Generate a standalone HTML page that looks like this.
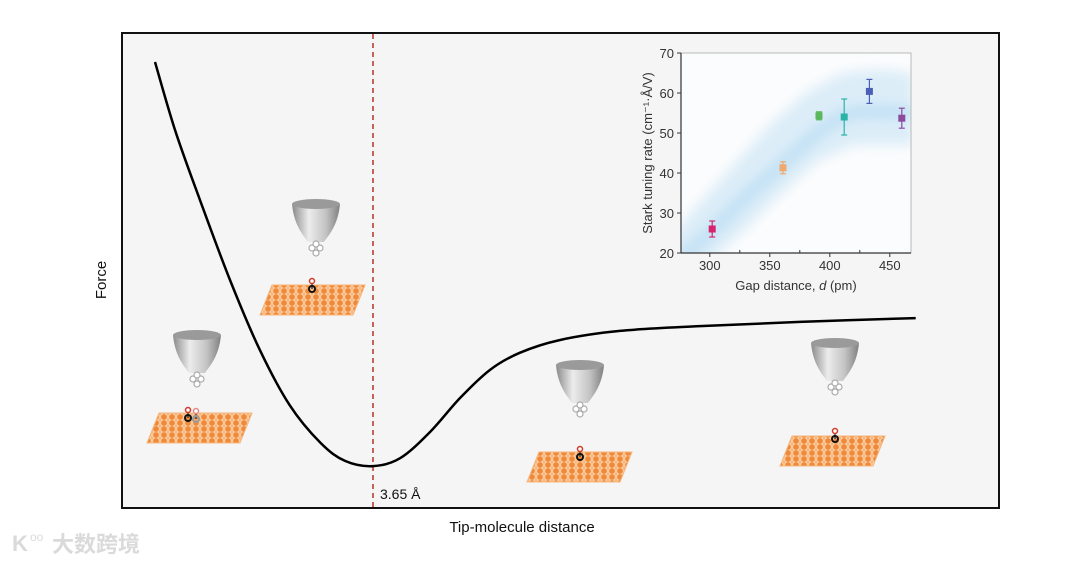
<!DOCTYPE html>
<html><head><meta charset="utf-8">
<style>
html,body{margin:0;padding:0;background:#fff;}
body{width:1080px;height:563px;overflow:hidden;font-family:"Liberation Sans",sans-serif;}
svg text{font-family:"Liberation Sans","Noto Sans CJK SC",sans-serif;}
</style></head>
<body>
<svg id="chart" width="1080" height="563" viewBox="0 0 1080 563">
<defs>
  <linearGradient id="cone" x1="0" x2="1" y1="0" y2="0">
    <stop offset="0" stop-color="#8a8a8a"/><stop offset="0.35" stop-color="#ececec"/><stop offset="0.7" stop-color="#c4c4c4"/><stop offset="1" stop-color="#808080"/>
  </linearGradient>
  <pattern id="atoms" width="8" height="6" patternUnits="userSpaceOnUse">
    <rect width="8" height="6" fill="#f7b27a"/>
    <circle cx="4" cy="3" r="3.4" fill="#f08a3a" stroke="#fbd2a8" stroke-width="1"/>
  </pattern>
  <filter id="blur" x="-20%" y="-20%" width="140%" height="140%"><feGaussianBlur stdDeviation="6"/></filter>
  <clipPath id="insetClip"><rect x="681" y="53" width="230" height="200"/></clipPath>
</defs>
<rect x="122" y="33" width="877" height="475" fill="#f5f5f5" stroke="#111" stroke-width="2"/>
<g id="illus"></g>
<line x1="373" y1="34" x2="373" y2="508" stroke="#b83228" stroke-width="1.5" stroke-dasharray="5,4"/>
<text x="380" y="499" font-size="14" fill="#111">3.65 Å</text>
<path id="curve" fill="none" stroke="#000" stroke-width="2.5"/>
<text x="106" y="280" font-size="15" fill="#111" transform="rotate(-90 106 280)" text-anchor="middle">Force</text>
<text x="522" y="532" font-size="15" fill="#111" text-anchor="middle">Tip-molecule distance</text>
<g id="inset"></g>
<g opacity="0.9">
  <text x="12" y="551" font-size="22" fill="#d6d6d6" font-weight="bold">K</text>
  <text x="30" y="541" font-size="12" fill="#d6d6d6">oo</text>
  <text x="52" y="552" font-size="22" fill="#d6d6d6" font-weight="bold">大数跨境</text>
</g>
</svg>
<script>
const NS="http://www.w3.org/2000/svg";
// main curve data (arbitrary units)
const distance=[3.76,6.04,8.88,12.3,15.7,19.1,22.6,25.4,28.6,31.7,35.1,38.5,41.9,45.3,49.9,56.7,65.8,77.2,90.4];
const force=[93.7,79.4,64.7,47.9,33.2,21.6,13.7,9.9,8.8,10.5,16.0,23.1,29.0,32.6,35.3,37.2,38.2,39.1,39.9];
// inset data
const gapDistance=[302,361,391,412,433,460];
const starkRate=[26,41.3,54.3,54,60.4,53.7];
const starkErr=[2,1.5,1,4.5,3,2.5];
const pointColors=["#d6246e","#f0a870","#5cb85c","#2bb3a8","#4a5fb5","#8e4a9e"];
const xTicks=[300,350,400,450];
const yTicks=[20,30,40,50,60,70];
const bandLower=[[270,10],[300,18],[330,26],[360,35],[390,43],[420,47],[470,47]];
const bandUpper=[[262,22],[290,32],[320,42],[350,52],[380,60],[410,65],[440,66],[470,65]];
const bandCenter=[[270,17],[300,25],[330,34],[360,42],[390,50],[420,55],[470,55]];

const mx=d=>122+d*8.78, my=f=>508-f*4.76;
function smooth(pts){
  let s=`M${pts[0][0]},${pts[0][1]}`;
  for(let i=0;i<pts.length-1;i++){
    const p0=pts[Math.max(0,i-1)],p1=pts[i],p2=pts[i+1],p3=pts[Math.min(pts.length-1,i+2)];
    s+=` C${p1[0]+(p2[0]-p0[0])/6},${p1[1]+(p2[1]-p0[1])/6} ${p2[0]-(p3[0]-p1[0])/6},${p2[1]-(p3[1]-p1[1])/6} ${p2[0]},${p2[1]}`;
  }
  return s;
}
document.getElementById('curve').setAttribute('d',smooth(distance.map((d,i)=>[mx(d),my(force[i])])));

function el(tag,attrs,parent){const e=document.createElementNS(NS,tag);for(const k in attrs)e.setAttribute(k,attrs[k]);parent.appendChild(e);return e;}

const illus=document.getElementById('illus');
function scene(tx,ty,sx,sy,mol){
  const g=el('g',{},illus);
  
  
  el('path',{d:`M${tx-24},${ty} Q${tx},${ty-6} ${tx+24},${ty} C${tx+22},${ty+22} ${tx+12},${ty+32} ${tx+8},${ty+38} L${tx-8},${ty+38} C${tx-12},${ty+32} ${tx-22},${ty+22} ${tx-24},${ty} Z`,fill:'url(#cone)'},g);
  el('ellipse',{cx:tx,cy:ty,rx:24,ry:5,fill:'#9a9a9a'},g);
  [[-4,44],[4,44],[0,49],[0,40]].forEach(p=>el('circle',{cx:tx+p[0],cy:ty+p[1],r:3,fill:'#fff',stroke:'#aaa','stroke-width':1.2},g));
  el('path',{d:`M${sx+12},${sy} L${sx+105},${sy} L${sx+93},${sy+30} L${sx},${sy+30} Z`,fill:'url(#atoms)',stroke:'#f6b57c','stroke-width':1},g);
  mol.forEach(m=>{
    el('line',{x1:m[0],y1:m[1]-6,x2:m[0],y2:m[1],stroke:'#444','stroke-width':1.5},g);
    el('circle',{cx:m[0],cy:m[1]-8,r:2.5,fill:'#fff',stroke:m[2]?'#e08a8a':'#d03a2a','stroke-width':1.5},g);
    el('circle',{cx:m[0],cy:m[1],r:3,fill:'none',stroke:m[2]?'#999':'#111','stroke-width':2},g);
  });
}
scene(316,204,260,285,[[312,289]]);
scene(197,335,147,413,[[188,418],[196,419,true]]);
scene(580,365,527,452,[[580,457]]);
scene(835,343,780,436,[[835,439]]);

const inset=document.getElementById('inset');
const ix=v=>681+(v-276)*1.2, iy=v=>253-(v-20)*4;
el('rect',{x:681,y:53,width:230,height:200,fill:'#fbfcfd'},inset);
const bg=el('g',{'clip-path':'url(#insetClip)'},inset);
const poly=bandLower.concat(bandUpper.slice().reverse()).map(p=>`${ix(p[0])},${iy(p[1])}`).join(' ');
el('polygon',{points:poly,fill:'#dcedf8',filter:'url(#blur)'},bg);
el('path',{d:smooth(bandCenter.map(p=>[ix(p[0]),iy(p[1])])),fill:'none',stroke:'#bfe0f4','stroke-width':12,filter:'url(#blur)'},bg);
el('rect',{x:681,y:53,width:230,height:200,fill:'none',stroke:'#aaa','stroke-width':0.8},inset);
el('line',{x1:681,y1:53,x2:681,y2:253,stroke:'#333','stroke-width':1.2},inset);
el('line',{x1:681,y1:253,x2:911,y2:253,stroke:'#333','stroke-width':1.2},inset);
xTicks.forEach(t=>{
  el('line',{x1:ix(t),y1:253,x2:ix(t),y2:257,stroke:'#333'},inset);
  if(t+25<467) el('line',{x1:ix(t+25),y1:253,x2:ix(t+25),y2:250,stroke:'#333'},inset);
  const tx=el('text',{x:ix(t),y:270,'font-size':13,'text-anchor':'middle',fill:'#333'},inset);
  
  
  tx.textContent=t;
});
yTicks.forEach(t=>{
  el('line',{x1:677,y1:iy(t),x2:681,y2:iy(t),stroke:'#333'},inset);
  const tx=el('text',{x:674,y:iy(t)+5,'font-size':13,'text-anchor':'end',fill:'#333'},inset);
  
  
  tx.textContent=t;
});
const xt=el('text',{x:796,y:290,'font-size':13,'text-anchor':'middle',fill:'#333'},inset);


xt.innerHTML='Gap distance, <tspan font-style="italic">d</tspan> (pm)';
const yt=el('text',{x:652,y:153,'font-size':13,'text-anchor':'middle',fill:'#333',transform:'rotate(-90 652 153)'},inset);


yt.textContent='Stark tuning rate (cm⁻¹·Å/V)';
gapDistance.forEach((d,i)=>{
  const g=el('g',{},inset);
  
  
  const c=pointColors[i],x=ix(d);
  el('line',{x1:x,y1:iy(starkRate[i]-starkErr[i]),x2:x,y2:iy(starkRate[i]+starkErr[i]),stroke:c,'stroke-width':1.2},g);
  [starkRate[i]-starkErr[i],starkRate[i]+starkErr[i]].forEach(v=>el('line',{x1:x-3,y1:iy(v),x2:x+3,y2:iy(v),stroke:c,'stroke-width':1.2},g));
  el('rect',{x:x-3.5,y:iy(starkRate[i])-3.5,width:7,height:7,fill:c},g);
});
</script>
</body></html>
